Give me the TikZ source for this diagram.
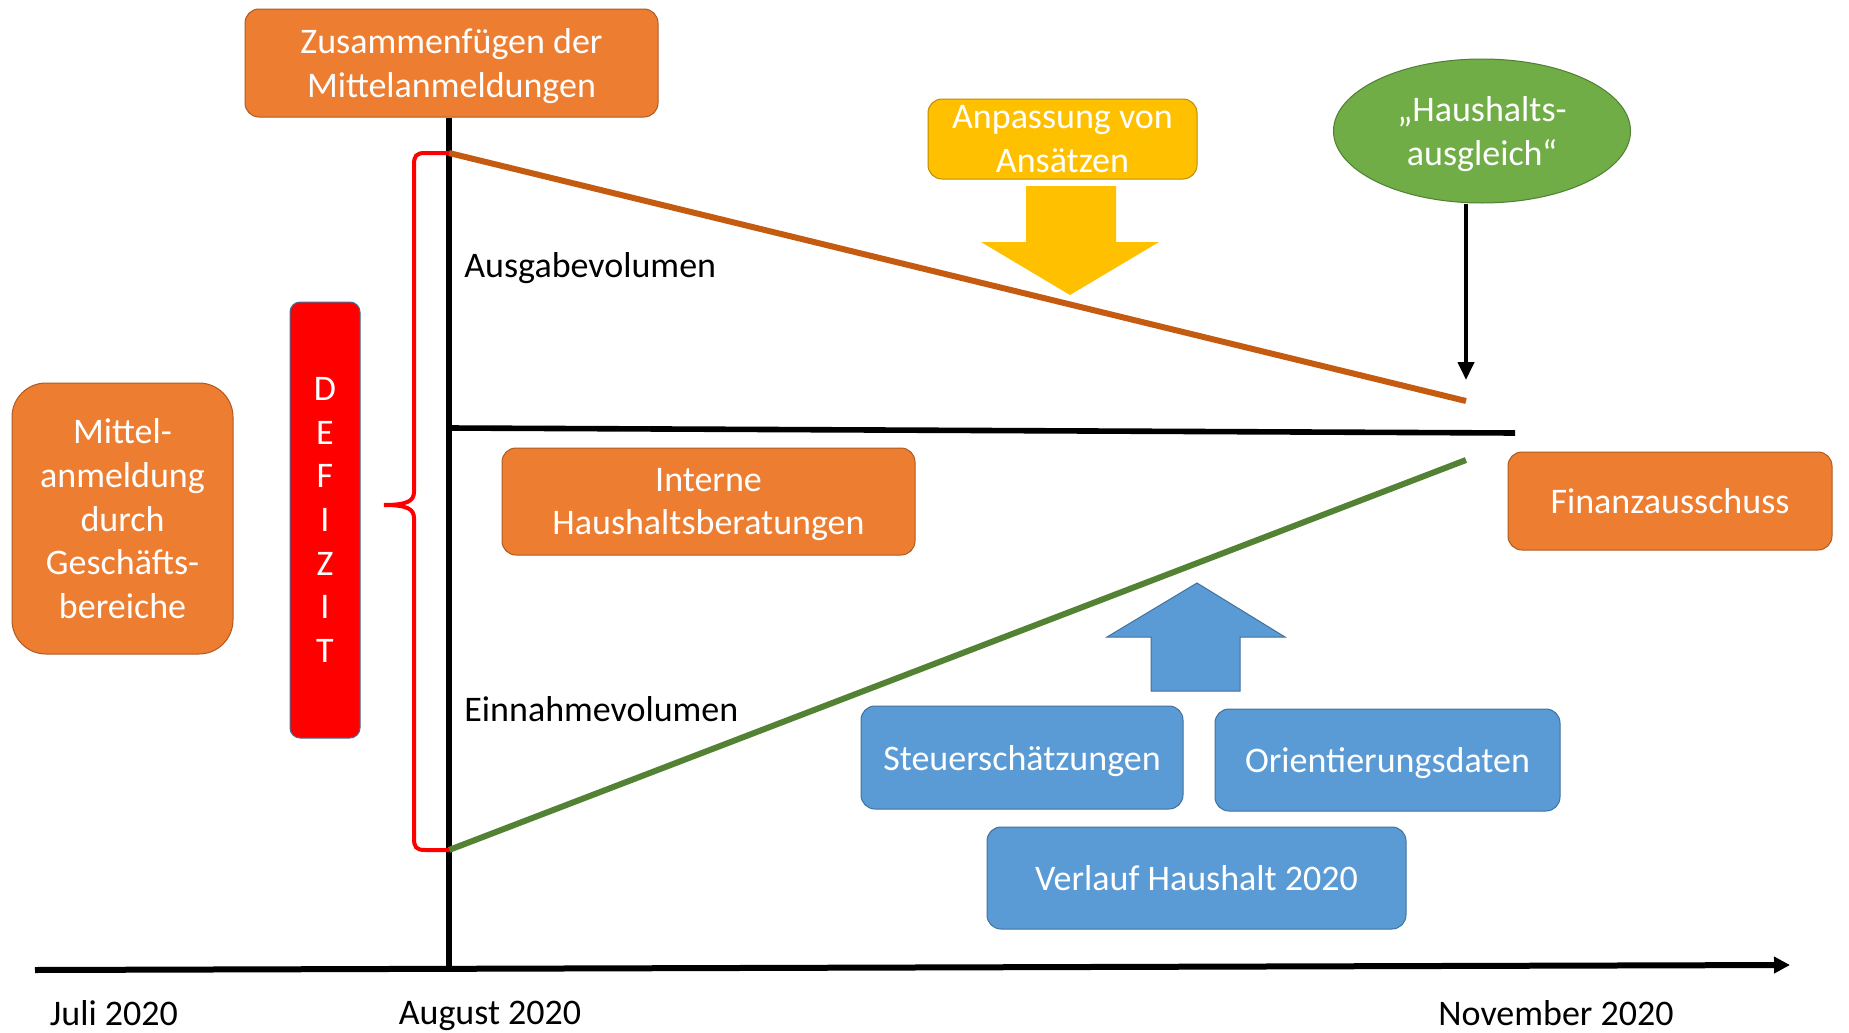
\documentclass[tikz,border=0pt]{standalone}
\usepackage{fontspec}
\setmainfont{Carlito}
\usetikzlibrary{shapes.geometric,arrows.meta}

\definecolor{orangefill}{HTML}{ED7D31}
\definecolor{orangeedge}{HTML}{AE5A21}
\definecolor{spendline}{HTML}{C55A11}
\definecolor{incomeline}{HTML}{548235}
\definecolor{yellowfill}{HTML}{FFC000}
\definecolor{yellowedge}{HTML}{BC8C00}
\definecolor{greenfill}{HTML}{70AD47}
\definecolor{greenedge}{HTML}{507E32}
\definecolor{bluefill}{HTML}{5B9BD5}
\definecolor{blueedge}{HTML}{41719C}
\definecolor{deficitred}{HTML}{FF0000}

\newcommand{\diafont}{\fontsize{18}{21.8}\selectfont}

\begin{document}
\begin{tikzpicture}[x=0.5pt,y=0.5pt,yscale=-1,xscale=1,
	every node/.style={font=\diafont, inner sep=0pt, text depth=0pt},
	stagebox/.style={rectangle, rounded corners=7pt, fill=orangefill, draw=orangeedge, line width=0.5pt, text=white, align=center},
	inputbox/.style={rectangle, rounded corners=7pt, fill=bluefill, draw=blueedge, line width=0.5pt, text=white, align=center},
	axisline/.style={line width=3pt, black},
	datelabel/.style={black}]
		\useasboundingbox (0,0) rectangle (1849,1033);

		% Box on top of the August line
		\node[stagebox, minimum width=206.5pt, minimum height=54pt] (merge) at (451.5,63) {Zusammenfügen der\\Mittelanmeldungen};

		% Box on the far left
		\node[stagebox, rounded corners=17pt, minimum width=110.5pt, minimum height=135.5pt] (request) at (122.5,518.5) {Mittel-\\anmeldung\\durch\\Geschäfts-\\bereiche};

		% The red DEFIZIT bar
		\node[rectangle, rounded corners=5pt, fill=deficitred, draw=blueedge, line width=0.5pt, text=white, align=center, minimum width=35pt, minimum height=218pt] (deficit) at (325,520) {D\\E\\F\\I\\Z\\I\\T};

		% Points on the two lines
		\coordinate (spendtop) at (449,153);
		\coordinate (spendend) at (1466,401);
		\coordinate (incomelow) at (449,850);
		\coordinate (incomeend) at (1466,460);
		\coordinate (zerostart) at (449,428);
		\coordinate (zeroend) at (1515,433);
		\coordinate (axisstart) at (35,970);
		\coordinate (axisend) at (1790,965);
		\coordinate (augfoot) at (449,969);
		\coordinate (balance) at (1466,380);

		% Time axis and the August line
		\draw[axisline, -{Triangle[length=8pt,width=8pt]}] (axisstart) -- (axisend);
		\draw[line width=2.8pt] (merge.south -| augfoot) -- (augfoot);

		% The zero line
		\draw[line width=2.8pt] (zerostart) -- (zeroend);

		% Spending and income lines
		\draw[spendline, line width=3pt] (spendtop) -- (spendend);
		\draw[incomeline, line width=3pt] (incomelow) -- (incomeend);

		% Red brace between the two lines
		\draw[deficitred, line width=2pt] (spendtop) -- (425,153) .. controls (416,153) and (414,156) .. (414,165)
			-- (414,492) .. controls (414,501) and (407,505) .. (384,505)
			.. controls (407,505) and (414,509) .. (414,518)
			-- (414,838) .. controls (414,847) and (416,850) .. (425,850) -- (incomelow);

		% Labels of the lines
		\node[anchor=west] (spendlabel) at (464,265) {Ausgabevolumen};
		\node[anchor=west] (incomelabel) at (464,709) {Einnahmevolumen};

		% Internal talks
		\node[stagebox, minimum width=206.5pt, minimum height=53.5pt] (talks) at (708.5,501.5) {Interne\\Haushaltsberatungen};

		% Yellow box and its arrow
		\node[rectangle, rounded corners=7pt, fill=yellowfill, draw=yellowedge, line width=0.5pt, text=white, align=center, minimum width=134.5pt, minimum height=40pt] (adjust) at (1062.5,139) {Anpassung von\\Ansätzen};
		\fill[yellowfill] (1026,186) -- (1116,186) -- (1116,242) -- (1159,242) -- (1070,295) -- (981,242) -- (1026,242) -- cycle;

		% Green ellipse with its arrow
		\node[ellipse, fill=greenfill, draw=greenedge, line width=0.5pt, text=white, align=center, minimum width=148.5pt, minimum height=72pt] (balanced) at (1482,131) {„Haushalts-\\ausgleich“};
		\draw[line width=2pt, -{Triangle[length=9pt,width=8pt]}] (balance |- balanced.south) -- (balance);

		% Committee box
		\node[stagebox, minimum width=162pt, minimum height=49pt] (committee) at (1670,501) {Finanzausschuss};

		% Blue arrow and the three inputs
		\draw[fill=bluefill, draw=blueedge, line width=0.5pt] (1197,583) -- (1285,637) -- (1240,637) -- (1240,691) -- (1151,691) -- (1151,637) -- (1107,637) -- cycle;
		\node[inputbox, minimum width=161pt, minimum height=51.5pt] (taxes) at (1022,757.5) {Steuerschätzungen};
		\node[inputbox, minimum width=172.5pt, minimum height=51pt] (guides) at (1387.5,760) {Orientierungsdaten};
		\node[inputbox, minimum width=209.5pt, minimum height=51pt] (course) at (1196.5,878) {Verlauf Haushalt 2020};

		% Dates below the axis
		\node[datelabel] (july) at (114,1013) {Juli 2020};
		\node[datelabel] (august) at (490,1013) {August 2020};
		\node[datelabel] (november) at (1556,1013) {November 2020};
	\end{tikzpicture}
\end{document}
